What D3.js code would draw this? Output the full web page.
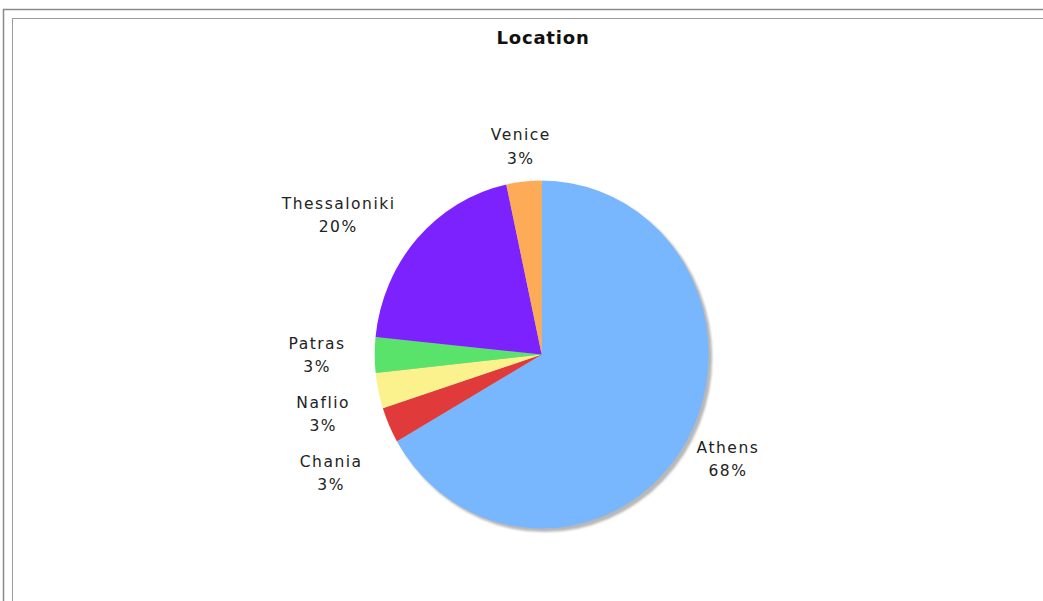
<!DOCTYPE html>
<html><head><meta charset="utf-8">
<script src="https://cdn.jsdelivr.net/npm/d3@7"></script>
<style>html,body{margin:0;padding:0;background:#fff;overflow:hidden}</style>
</head><body>
<svg id="chart" width="1043" height="601"></svg>
<script>
const title = "Location";
const categories = ["Athens","Chania","Naflio","Patras","Thessaloniki","Venice"];
const values = [66.7,3.3,3.3,3.3,20,3.4];
// percentage texts as printed on the chart
const pctLabels = ["68%","3%","3%","3%","20%","3%"];
const colors = ["#78b6fd","#e03a3a","#fbf28e","#5ae36a","#7b22fe","#fdab57"];

const W = 1043, H = 601;
const svg = d3.select("#chart");
svg.append("rect").attr("x",3.5).attr("y",9.5).attr("width",1100).attr("height",700)
  .attr("fill","none").attr("stroke","#8a8a8a").attr("stroke-width",1.5);
svg.append("rect").attr("x",12.5).attr("y",18.5).attr("width",1100).attr("height",700)
  .attr("fill","#fff").attr("stroke","#9a9a9a").attr("stroke-width",1);

svg.append("text").attr("x",543).attr("y",44).attr("text-anchor","middle")
  .attr("font-family","DejaVu Sans, sans-serif").attr("font-weight","bold")
  .attr("font-size",18).attr("letter-spacing","0.8px").attr("fill","#111").text(title);

const cx = 541.7, cy = 354.5, rx = 167, ry = 174;
const data = categories.map((c,i)=>({name:c,value:values[i],color:colors[i],pct:pctLabels[i]}));
const pie = d3.pie().sort(null).value(d=>d.value);
const arcs = pie(data);
const R = 100;
const arc = d3.arc().innerRadius(0).outerRadius(R);

const defs = svg.append("defs");
const f = defs.append("filter").attr("id","blur").attr("x","-20%").attr("y","-20%").attr("width","140%").attr("height","140%");
f.append("feGaussianBlur").attr("stdDeviation",1.2);

svg.append("ellipse").attr("cx",cx+3).attr("cy",cy+3).attr("rx",rx+0.5).attr("ry",ry+0.5)
  .attr("fill","#b8b8b8").attr("filter","url(#blur)");

const g = svg.append("g").attr("transform",`translate(${cx},${cy}) scale(${rx/R},${ry/R})`);
g.selectAll("path").data(arcs).join("path")
  .attr("d",arc).attr("fill",d=>d.data.color);

// labels
const labels = arcs.map(a=>{
  const m = (a.startAngle+a.endAngle)/2;
  const dx = Math.sin(m), dy = -Math.cos(m);
  const offx = dx < 0 ? 29 : 12;
  return {name:a.data.name, pct:a.data.pct,
    x: cx + dx*(rx+offx), y: cy + dy*(ry+35), dx, dy};
});
// resolve overlap on left side (push down)
const gap = 59;
const left = labels.filter(l=>l.dx< -0.3).sort((a,b)=>a.y-b.y);
for(let i=1;i<left.length;i++){
  if(left[i].y - left[i-1].y < gap) left[i].y = left[i-1].y + gap;
}
const lg = svg.append("g").attr("font-family","DejaVu Sans, sans-serif").attr("font-size",15.5)
  .attr("fill","#222").attr("letter-spacing","1.5px");
labels.forEach(l=>{
  const anchor = Math.abs(l.dx)<0.3 ? "middle" : (l.dx<0 ? "end" : "start");
  const t = lg.append("text").attr("x",l.x).attr("y",l.y-6.5).attr("text-anchor",anchor);
  t.text(l.name);
  const bb = t.node().getBBox();
  const mid = bb.x + bb.width/2;
  lg.append("text").attr("x",mid).attr("y",l.y+17).attr("text-anchor","middle").text(l.pct);
});
</script>
</body></html>
